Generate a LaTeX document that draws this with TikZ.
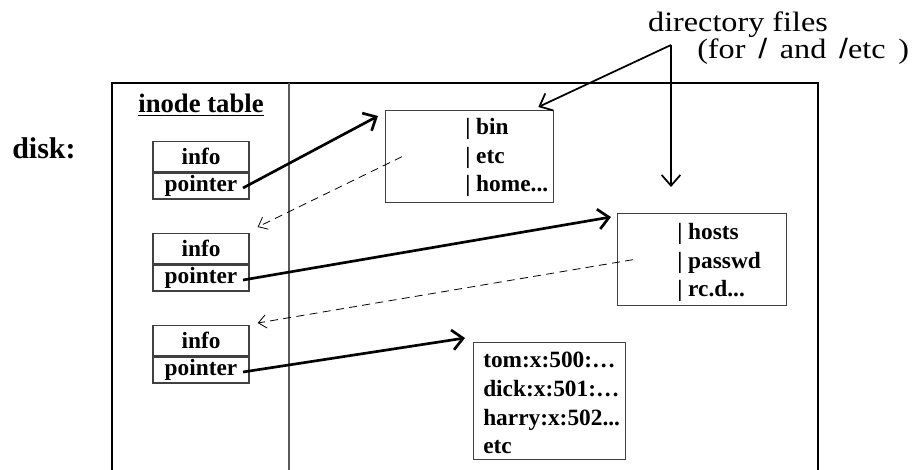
\documentclass[tikz,border=0pt]{standalone}
\usepackage{fontspec}
\setmainfont{Liberation Serif}
\newfontfamily\slashfont{Liberation Sans}[FakeStretch=1.15]
\newfontfamily\legfont{Liberation Serif}[FakeStretch=1.15]
\usetikzlibrary{arrows.meta}
\usetikzlibrary{positioning}
\newcommand{\troispts}{...}

\begin{document}
\begin{tikzpicture}[x=0.75pt,y=-0.75pt,
    champ/.style={draw=black!75, line width=1pt, minimum width=72pt, inner sep=0pt,
        font=\fontsize{17.5}{20}\selectfont\bfseries},
    repbox/.style={draw=black!75, line width=1pt, inner sep=0pt, anchor=north west},
    ligne/.style={inner sep=0pt, anchor=base west, font=\fontsize{17.5}{20}\selectfont\bfseries},
    legende/.style={inner sep=0pt, font=\legfont\fontsize{21}{24}\selectfont},
    lien/.style={line width=2pt, -{Straight Barb[length=8pt,width=15pt]}},
    retour/.style={dash pattern=on 6pt off 4pt, line width=0.6pt, -{Straight Barb[length=6pt,width=10pt]}},
    renvoi/.style={line width=1.3pt, -{Straight Barb[length=8pt,width=14pt]}}]

    \useasboundingbox (0,0) rectangle (914,470);

    % le disque et la colonne de la table
    \draw[line width=2pt] (112,470) -- (112,83) -- (818,83) -- (818,470);
    \draw[line width=1.2pt, black!65] (289,83) -- (289,470);

    \node[anchor=base west, inner sep=0pt, font=\fontsize{22.5}{26}\selectfont\bfseries] (disque) at (12,159) {disk:};
    \node[anchor=base, inner sep=0pt, font=\fontsize{20}{24}\selectfont\bfseries] (titre) at (201,113) {\underline{inode table}};

    % les trois inodes
    \foreach \n/\y in {1/141, 2/233, 3/325} {
        \node[champ, anchor=north, minimum height=22.5pt] (info\n) at (201,\y) {info};
        \node[champ, anchor=north, minimum height=19.5pt] (ptr\n) at (info\n.south) {pointer};
    }

    % fichiers repertoires et fichier passwd
    \node[repbox, minimum width=126pt, minimum height=69pt] (racine) at (385,110) {};
    \foreach \t [count=\k] in {bin, etc, home\troispts} {
        \node[ligne] (rac\k) at (465,{135+28.5*(\k-1)}) {| \t};
    }
    \node[repbox, minimum width=126.75pt, minimum height=69pt] (repetc) at (617,213) {};
    \foreach \t [count=\k] in {hosts, passwd, rc.d\troispts} {
        \node[ligne] (etc\k) at (677,{240+28.5*(\k-1)}) {| \t};
    }
    \node[repbox, minimum width=114pt, minimum height=87.75pt] (passwd) at (473,342) {};
    \foreach \t [count=\k] in {tom:x:500:…, dick:x:501:…, harry:x:502\troispts, etc} {
        \node[ligne] (pw\k) at (483,{368+28.5*(\k-1)}) {\t};
    }

    % legende
    \node[legende, anchor=base] (leg1) at (738,32) {directory files};
    \node[legende, anchor=base west] (leg2) at (697,59)
        {(for\, {\slashfont /}\, and\, {\slashfont /}etc\, )};
    \coordinate (sommet) at (671,45);
    \coordinate (versracine) at ([xshift=-12pt,yshift=2.25pt]racine.north east);
    \coordinate (versetc) at (671,187);
    \draw[renvoi] (sommet) -- (versracine);
    \draw[renvoi] (sommet) -- (versetc);

    % pointeurs
    \draw[lien] ([xshift=-5pt,yshift=-1.5pt]ptr1.east) -- ([xshift=-5.25pt,yshift=-4.5pt]racine.north west);
    \draw[lien] ([xshift=-5pt,yshift=-1.5pt]ptr2.east) -- ([xshift=-4.5pt,yshift=-3pt]repetc.north west);
    \draw[lien] ([xshift=-5pt,yshift=-1.5pt]ptr3.east) -- ([xshift=-6pt,yshift=3pt]passwd.north west);

    % entrees vers les inodes
    \coordinate (depart1) at ([xshift=12.75pt]racine.west);
    \coordinate (depart2) at ([xshift=12pt]repetc.west);
    \draw[retour] (depart1) -- ([xshift=6pt,yshift=4.5pt]info2.north east);
    \draw[retour] (depart2) -- ([xshift=6pt,yshift=1.5pt]info3.north east);
\end{tikzpicture}
\end{document}
